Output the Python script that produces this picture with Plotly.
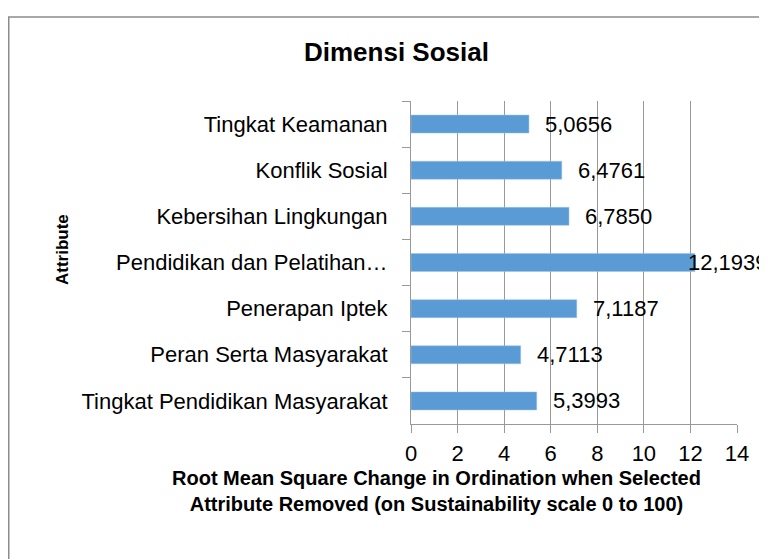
import plotly.graph_objects as go

categories = ["Tingkat Keamanan", "Konflik Sosial", "Kebersihan Lingkungan",
              "Pendidikan dan Pelatihan…", "Penerapan Iptek",
              "Peran Serta Masyarakat", "Tingkat Pendidikan Masyarakat"]
values = [5.0656, 6.4761, 6.7850, 12.1939, 7.1187, 4.7113, 5.3993]
x_ticks = [0, 2, 4, 6, 8, 10, 12, 14]

FONT = "Liberation Sans, Arial, sans-serif"

# figure is drawn 8px inside the page (body margin), so size it to fit
W, H = 759, 551
ml, mr, mt, mb = 403, 30, 93, 135
pw, ph = W - ml - mr, H - mt - mb

def px_to_paper(px, py):
    return (px - ml) / pw, (H - mb - py) / ph

fig = go.Figure()
fig.add_trace(go.Bar(
    y=categories, x=values, orientation="h",
    marker=dict(color="#5B9BD5", line=dict(color="#9DC3E6", width=0.5)),
))

annotations = []
for c, v in zip(categories, values):
    txt = f"{v:.4f}".replace(".", ",")
    annotations.append(dict(
        x=v, y=c, xref="x", yref="y", text=txt, showarrow=False,
        xanchor="left", yanchor="middle",
        xshift=(-9 if v > 12 else 14),
        font=dict(family=FONT, size=22, color="#000"),
    ))

tx, ty = px_to_paper(388, 44)
ax_, ay_ = px_to_paper(54, 242)
bx, by = px_to_paper(428, 483)
annotations += [
    dict(text="<b>Dimensi Sosial</b>", x=tx, y=ty, xref="paper", yref="paper",
         xanchor="center", yanchor="middle", showarrow=False,
         font=dict(family=FONT, size=26, color="#000")),
    dict(text="<b>Attribute</b>", textangle=-90, x=ax_, y=ay_, xref="paper", yref="paper",
         xanchor="center", yanchor="middle", showarrow=False,
         font=dict(family=FONT, size=17, color="#000")),
    dict(text="<b>Root Mean Square Change in Ordination when Selected<br>Attribute Removed (on Sustainability scale 0 to 100)</b>",
         x=bx, y=by, xref="paper", yref="paper", xanchor="center", yanchor="middle",
         align="center", showarrow=False,
         font=dict(family=FONT, size=20, color="#000")),
]

fx0, fy1 = px_to_paper(0.75, 9)
fx1, fy0 = px_to_paper(900, 700)

fig.update_layout(
    width=W, height=H,
    margin=dict(l=ml, r=mr, t=mt, b=mb),
    paper_bgcolor="white", plot_bgcolor="white",
    showlegend=False,
    bargap=0.61,
    annotations=annotations,
    shapes=[dict(type="rect", xref="paper", yref="paper",
                 x0=fx0, x1=fx1, y0=fy0, y1=fy1,
                 line=dict(color="#8c8c8c", width=1.5), layer="below")],
)
fig.update_xaxes(
    range=[0, 14], tickvals=x_ticks, showgrid=True, gridcolor="#999999", gridwidth=1,
    showline=True, linecolor="#999999", ticks="outside", ticklen=8, tickcolor="#999999",
    ticklabelstandoff=2,
    tickfont=dict(family=FONT, size=22, color="#000"), zeroline=False,
)
fig.update_yaxes(
    categoryorder="array", categoryarray=categories, autorange="reversed",
    showline=True, linecolor="#999999", ticks="outside", ticklen=8, tickcolor="#999999",
    tickson="boundaries", ticklabelstandoff=18,
    tickfont=dict(family=FONT, size=22, color="#000"), showgrid=False,
)

fig.write_html("out.html")
